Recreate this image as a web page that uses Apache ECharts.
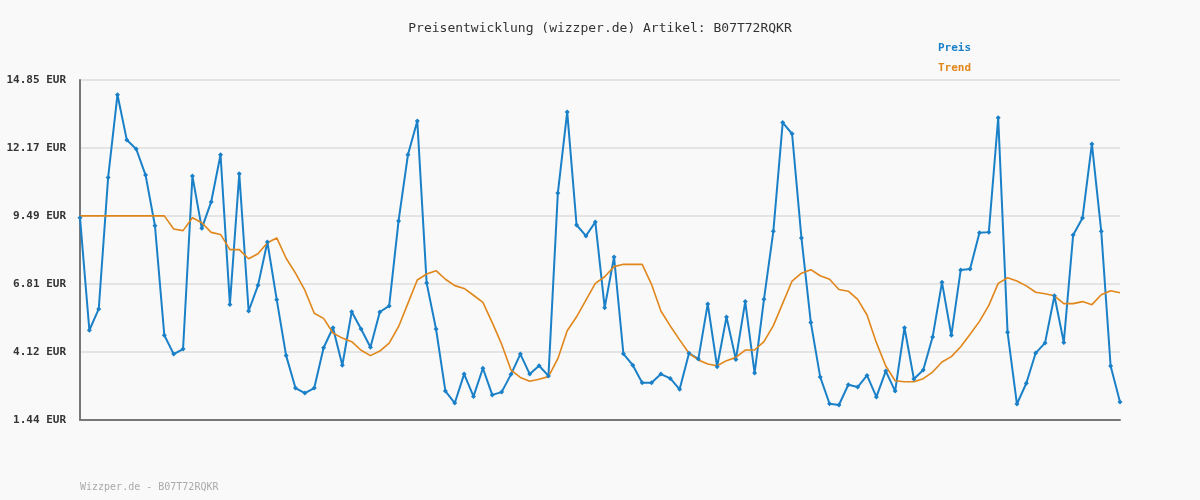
<!DOCTYPE html>
<html>
<head>
<meta charset="utf-8">
<style>
  html, body { margin: 0; padding: 0; background: #f9f9f9; }
  #chart-container { width: 1200px; height: 500px; }
</style>
</head>
<body>
<div id="chart-container"></div>
<script src="https://fastly.jsdelivr.net/npm/echarts@6/dist/echarts.min.js"></script>
<script type="text/javascript">
// values (EUR)
var preis = [9.42, 4.98, 5.82, 11.00, 14.27, 12.48, 12.13, 11.10, 9.10, 4.78,
  4.04, 4.24, 11.06, 9.00, 10.04, 11.90, 6.00, 11.15, 5.74, 6.75,
  8.46, 6.18, 3.98, 2.70, 2.50, 2.70, 4.29, 5.08, 3.60, 5.71,
  5.03, 4.31, 5.70, 5.94, 9.29, 11.90, 13.23, 6.84, 5.03, 2.58,
  2.11, 3.25, 2.37, 3.48, 2.43, 2.54, 3.24, 4.04, 3.25, 3.58,
  3.18, 10.39, 13.59, 9.13, 8.70, 9.25, 5.87, 7.87, 4.05, 3.60,
  2.91, 2.91, 3.25, 3.08, 2.65, 4.07, 3.85, 6.02, 3.54, 5.50,
  3.83, 6.11, 3.29, 6.20, 8.88, 13.17, 12.73, 8.62, 5.29, 3.14,
  2.08, 2.03, 2.83, 2.74, 3.20, 2.35, 3.37, 2.58, 5.08, 3.06,
  3.41, 4.71, 6.87, 4.78, 7.36, 7.40, 8.83, 8.85, 13.36, 4.90,
  2.07, 2.89, 4.08, 4.48, 6.34, 4.50, 8.74, 9.41, 12.33, 8.88,
  3.57, 2.15];

var trend = [9.49, 9.49, 9.49, 9.49, 9.49, 9.49, 9.49, 9.49, 9.49, 9.49,
  8.97, 8.91, 9.42, 9.22, 8.84, 8.76, 8.16, 8.16, 7.80, 8.00,
  8.43, 8.62, 7.82, 7.23, 6.56, 5.65, 5.45, 4.87, 4.67, 4.53,
  4.19, 3.98, 4.16, 4.47, 5.12, 6.04, 6.96, 7.20, 7.33, 6.99,
  6.74, 6.63, 6.36, 6.08, 5.28, 4.43, 3.41, 3.12, 2.97, 3.05,
  3.15, 3.86, 4.96, 5.51, 6.17, 6.83, 7.09, 7.49, 7.58, 7.58,
  7.58, 6.79, 5.74, 5.15, 4.60, 4.07, 3.81, 3.65, 3.58, 3.78,
  3.91, 4.20, 4.20, 4.53, 5.16, 6.04, 6.92, 7.23, 7.37, 7.13,
  6.99, 6.59, 6.52, 6.20, 5.58, 4.49, 3.57, 2.99, 2.95, 2.95,
  3.07, 3.33, 3.73, 3.94, 4.33, 4.82, 5.33, 5.96, 6.83, 7.05,
  6.92, 6.73, 6.48, 6.42, 6.34, 6.03, 6.03, 6.11, 5.99, 6.38,
  6.54, 6.46];

// y axis tick labels as printed on the picture
var yTicks = ['1.44 EUR', '4.12 EUR', '6.81 EUR', '9.49 EUR', '12.17 EUR', '14.85 EUR'];
var yMin = 1.44;
var yMax = 14.85;
var yStep = 2.682;

var days = preis.map(function (v, i) { return String(i + 1); });

var dom = document.getElementById('chart-container');
var myChart = echarts.init(dom, null, { renderer: 'canvas' });

var mono = 'DejaVu Sans Mono';

var option = {
  backgroundColor: '#f9f9f9',
  animation: false,
  title: {
    text: 'Preisentwicklung (wizzper.de) Artikel: B07T72RQKR',
    left: 'center',
    top: 17,
    textStyle: { fontFamily: mono, fontSize: 13, fontWeight: 'normal', color: '#333' }
  },
  legend: {
    orient: 'vertical',
    left: 928,
    top: 36,
    itemGap: 8,
    icon: 'none',
    itemWidth: 0,
    data: [
      { name: 'Preis', textStyle: { color: '#1a80c8' } },
      { name: 'Trend', textStyle: { color: '#e0861a' } }
    ],
    textStyle: { fontFamily: mono, fontSize: 11, fontWeight: 'bold' }
  },
  grid: { left: 80, right: 80, top: 80, bottom: 80 },
  xAxis: {
    type: 'category',
    data: days,
    boundaryGap: false,
    axisLine: { lineStyle: { color: '#777', width: 2 } },
    axisTick: { show: false },
    axisLabel: { show: false }
  },
  yAxis: {
    type: 'value',
    min: yMin,
    max: yMax,
    interval: yStep,
    axisLine: { show: true, lineStyle: { color: '#777', width: 2 } },
    axisTick: { show: false },
    splitLine: { lineStyle: { color: '#e4e4e4', width: 2 } },
    axisLabel: {
      fontFamily: mono,
      fontSize: 11,
      fontWeight: 'bold',
      color: '#333',
      margin: 14,
      formatter: function (v) {
        var i = Math.round((v - yMin) / yStep);
        return yTicks[i] || '';
      }
    }
  },
  series: [
    {
      name: 'Preis',
      type: 'line',
      data: preis,
      symbol: 'diamond',
      symbolSize: 5,
      lineStyle: { color: '#1a80c8', width: 2 },
      itemStyle: { color: '#1a80c8' }
    },
    {
      name: 'Trend',
      type: 'line',
      data: trend,
      symbol: 'none',
      lineStyle: { color: '#e0861a', width: 1.6 },
      itemStyle: { color: '#e0861a' }
    }
  ],
  graphic: [
    {
      type: 'text',
      left: 80,
      top: 482,
      style: { text: 'Wizzper.de - B07T72RQKR', font: '10px "DejaVu Sans Mono"', fill: '#aaa' }
    }
  ]
};

myChart.setOption(option);
window.addEventListener('resize', myChart.resize);
</script>
</body>
</html>
